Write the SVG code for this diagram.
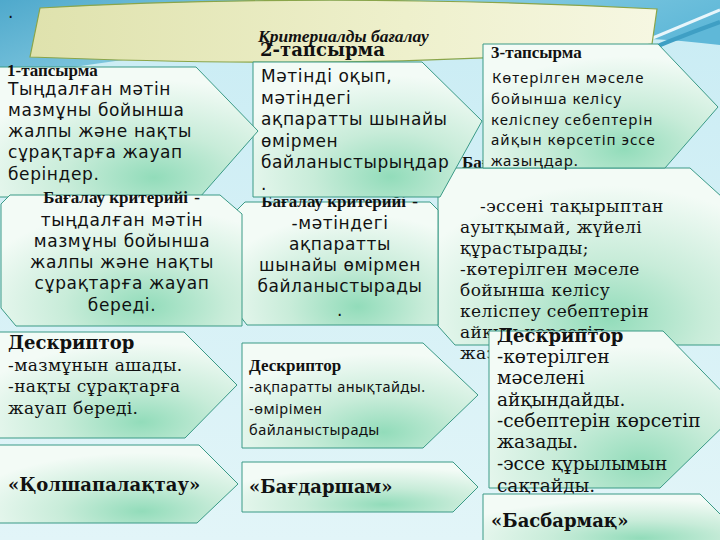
<svg xmlns="http://www.w3.org/2000/svg" width="720" height="540" viewBox="0 0 720 540">
<defs>
<linearGradient id="bg" x1="0" y1="0" x2="0" y2="1">
<stop offset="0" stop-color="#c9ecf4"/>
<stop offset="1" stop-color="#e2f5f8"/>
</linearGradient>
<linearGradient id="top" x1="0" y1="0" x2="1" y2="0.3">
<stop offset="0" stop-color="#4fa9cc"/>
<stop offset="0.5" stop-color="#8fd0e4"/>
<stop offset="1" stop-color="#5fb8d8"/>
</linearGradient>
<linearGradient id="banner" x1="0" y1="0" x2="1" y2="0">
<stop offset="0" stop-color="#dfe2ad"/>
<stop offset="0.6" stop-color="#eef0cc"/>
<stop offset="1" stop-color="#f6f7e2"/>
</linearGradient>
<radialGradient id="box" cx="0.6" cy="0.85" r="0.75">
<stop offset="0" stop-color="#92dcba"/>
<stop offset="0.45" stop-color="#c8ecd9"/>
<stop offset="1" stop-color="#f3fbf6"/>
</radialGradient>
<style>
.b{fill:url(#box);stroke:#3a9a86;stroke-width:1}
.s{font-family:"DejaVu Sans",sans-serif;font-size:17px;letter-spacing:0.6px;fill:#111}
.sr{font-family:"DejaVu Serif",serif;font-size:17px;letter-spacing:0.4px;fill:#111}
.sr2{font-family:"DejaVu Serif",serif;font-size:18.5px;fill:#111}
.n3{font-family:"Noto Sans","Liberation Sans",sans-serif;font-size:15px;letter-spacing:1px;fill:#111}
.n9{font-family:"Noto Sans","Liberation Sans",sans-serif;font-size:14.5px;letter-spacing:0.5px;fill:#111}
.hb{font-family:"Liberation Serif",serif;font-weight:bold;font-size:17px;letter-spacing:0;fill:#111}
.hl{font-family:"DejaVu Serif",serif;font-weight:bold;font-size:18px;fill:#111}
.c{text-anchor:middle}
</style>
</defs>
<g id="background">
<rect width="720" height="540" fill="url(#bg)"/>
<path d="M0,0 H720 V45 Q600,30 360,40 Q150,50 0,80 Z" fill="url(#top)"/>
<path d="M600,60 Q660,35 720,10" fill="none" stroke="#e8f6fb" stroke-width="3"/>
<path d="M620,62 Q670,40 720,22" fill="none" stroke="#3f9fc4" stroke-width="4"/>
<text x="8" y="18" class="s">.</text>
</g>
<g id="banner">
<path d="M40,8 Q330,-8 657,9 L652,44 Q420,72 30,57 Z" fill="url(#banner)" stroke="#8aa54a" stroke-width="1.2"/>
<text x="258" y="42" font-family="Liberation Serif,serif" font-style="italic" font-weight="bold" font-size="17.5" fill="#111">Критериалды бағалау</text>
</g>
<g id="criteria3">
<text x="462" y="168" class="hb">Бағалау критерийі -</text>
<polygon class="b" points="447,168 690,168 722,197 722,345 455,345 438,326 438,183"/>
<text class="sr"><tspan x="480" y="212">-эссені тақырыптан</tspan><tspan x="460" y="233">ауытқымай, жүйелі</tspan><tspan x="460" y="254">құрастырады;</tspan><tspan x="460" y="275">-көтерілген мәселе</tspan><tspan x="460" y="296">бойынша келісу</tspan><tspan x="460" y="317">келіспеу себептерін</tspan><tspan x="460" y="338">айқын көрсетіп</tspan><tspan x="460" y="359">жазады.</tspan></text>
</g>
<g id="criteria2">
<polygon class="b" points="245,202 430,202 438,210 438,325 247,325 237,312 237,210"/>
<text class="s c"><tspan x="340" y="207"><tspan class="hb">Бағалау критерийі</tspan> -</tspan><tspan x="340" y="229">-мәтіндегі</tspan><tspan x="340" y="250">ақпаратты</tspan><tspan x="340" y="271">шынайы өмірмен</tspan><tspan x="340" y="292">байланыстырады</tspan><tspan x="340" y="316">.</tspan></text>
</g>
<g id="task2">
<text x="260" y="56" class="hl">2-тапсырма</text>
<polygon class="b" points="253,62 422,62 482,121 440,197 253,197"/>
<text class="s"><tspan x="261" y="82">Мәтінді оқып,</tspan><tspan x="261" y="104">мәтіндегі</tspan><tspan x="261" y="125">ақпаратты шынайы</tspan><tspan x="261" y="147">өмірмен</tspan><tspan x="261" y="168">байланыстырыңдар</tspan><tspan x="261" y="190">.</tspan></text>
</g>
<g id="task1">
<polygon class="b" points="-2,67 196,67 258,131 200,197 -2,197"/>
<text x="7" y="76" class="hb">1-тапсырма</text>
<text class="s"><tspan x="8" y="95">Тыңдалған мәтін</tspan><tspan x="8" y="116">мазмұны бойынша</tspan><tspan x="8" y="137">жалпы және нақты</tspan><tspan x="8" y="158">сұрақтарға жауап</tspan><tspan x="8" y="180">беріндер.</tspan></text>
</g>
<g id="criteria1">
<polygon class="b" points="10,195 220,195 242,214 242,326 16,326 1,308 1,204"/>
<text class="s c"><tspan x="122" y="203"><tspan class="hb">Бағалау критерийі</tspan> -</tspan><tspan x="122" y="226">тыңдалған мәтін</tspan><tspan x="122" y="247">мазмұны бойынша</tspan><tspan x="122" y="268">жалпы және нақты</tspan><tspan x="122" y="289">сұрақтарға жауап</tspan><tspan x="122" y="311">береді.</tspan></text>
</g>
<g id="task3">
<polygon class="b" points="483,44 658,44 718,107 665,168 483,168"/>
<text x="491" y="58" class="hb">3-тапсырма</text>
<text class="n3"><tspan x="492" y="83">Көтерілген мәселе</tspan><tspan x="491" y="104">бойынша келісу</tspan><tspan x="491" y="125">келіспеу себептерін</tspan><tspan x="491" y="145">айқын көрсетіп эссе</tspan><tspan x="491" y="166">жазыңдар.</tspan></text>
</g>
<g id="descriptor1">
<polygon class="b" points="-2,332 184,332 237,385 185,438 -2,438"/>
<text x="8" y="349" class="hl">Дескриптор</text>
<text class="sr"><tspan x="8" y="371">-мазмұнын ашады.</tspan><tspan x="8" y="392">-нақты сұрақтарға</tspan><tspan x="8" y="414">жауап береді.</tspan></text>
</g>
<g id="method1">
<polygon class="b" points="-2,445 199,445 238,484 197,523 -2,523"/>
<text x="8" y="491" class="hl">«Қолшапалақтау»</text>
</g>
<g id="descriptor2">
<polygon class="b" points="242,343 423,343 478,395 423,448 242,448"/>
<text x="249" y="371" class="hb">Дескриптор</text>
<text class="n9"><tspan x="249" y="392">-ақпаратты анықтайды.</tspan><tspan x="249" y="414">-өмірімен</tspan><tspan x="249" y="435">байланыстырады</tspan></text>
</g>
<g id="method2">
<polygon class="b" points="242,462 453,462 478,487 453,512 242,512"/>
<text x="249" y="493" class="hl">«Бағдаршам»</text>
</g>
<g id="descriptor3">
<polygon class="b" points="489,331 663,331 740,410 660,488 489,488"/>
<text x="497" y="342" class="hl">Дескриптор</text>
<text class="sr2"><tspan x="497" y="363">-көтерілген</tspan><tspan x="497" y="384">мәселені</tspan><tspan x="497" y="406">айқындайды.</tspan><tspan x="497" y="427">-себептерін көрсетіп</tspan><tspan x="497" y="448">жазады.</tspan><tspan x="497" y="470">-эссе құрылымын</tspan><tspan x="497" y="492">сақтайды.</tspan></text>
</g>
<g id="method3">
<polygon class="b" points="483,494 700,494 746,540 746,546 483,546"/>
<text x="491" y="527" class="hl">«Басбармақ»</text>
</g>
<g id="connectors"></g>
</svg>
